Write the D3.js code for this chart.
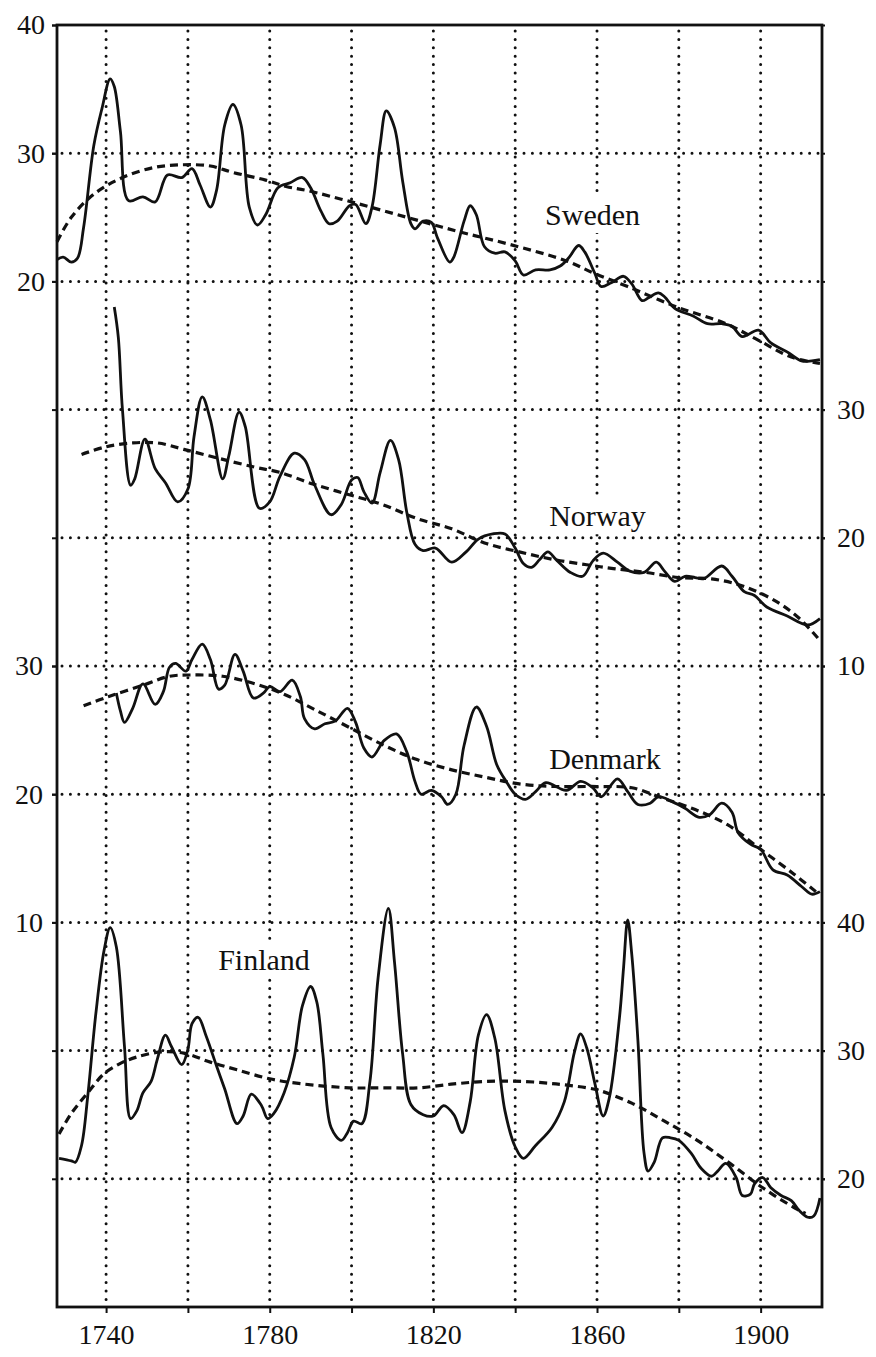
<!DOCTYPE html>
<html>
<head>
<meta charset="utf-8">
<script src="https://cdn.jsdelivr.net/npm/d3@7/dist/d3.min.js"></script>
<style>
  body { margin: 0; background: #fff; }
  text { font-family: "Liberation Serif", "Times New Roman", serif; fill: #111; }
</style>
</head>
<body>
<svg></svg>
<script>
// years on the x axis
var xTicks = [1740, 1760, 1780, 1800, 1820, 1840, 1860, 1880, 1900];
var xLabels = [1740, 1780, 1820, 1860, 1900];

// Sweden (left axis, top)
var swedenYears = [1728,1729.5,1731.5,1733,1734.5,1737,1739,1741,1742,1743.5,1745.5,1749,1752,1755,1758.5,1761,1763,1765.5,1767,1769,1771,1773,1775,1777,1779,1782,1785,1788,1790,1792.5,1794.5,1796.5,1799.5,1801,1803.5,1805,1807,1808.5,1810.5,1812.5,1814.5,1815.5,1817.5,1819.5,1821,1824,1825,1827.5,1829,1830.5,1832.5,1835,1837.5,1840,1842,1845,1848.5,1851,1853,1855.5,1857,1859.5,1861,1863.5,1866.5,1868.5,1871,1872.5,1875,1876.5,1879,1883.5,1887,1890.5,1893,1895.5,1899.5,1902.5,1907,1910,1912.5,1914.5];
var swedenRate = [21.7,21.9,21.5,21.8,24.2,30.6,33.5,35.8,35.2,31.7,26.3,26.6,26.2,28.3,28.1,28.8,27.5,25.8,27.1,32.2,33.8,32.2,25.8,24.4,25.2,27.3,27.7,28.1,27.3,25.5,24.5,24.7,25.9,26,24.5,25.8,30.7,33.3,32,27.8,24.5,24.1,24.7,24.6,23.4,21.5,21.9,24.7,25.9,25.2,22.7,22.2,22.3,21.6,20.5,20.9,20.9,21.2,21.8,22.8,22.3,20.6,19.6,19.9,20.4,19.8,18.5,18.7,19.1,18.8,17.9,17.3,16.7,16.7,16.5,15.7,16.2,15.2,14.4,13.8,13.8,13.9];
var swedenTrendYears = [1728,1731.5,1737,1744,1752,1759,1765.5,1771,1779,1784,1789,1800,1813.5,1826,1838.5,1852.5,1859.5,1867.5,1879.5,1891.5,1899.5,1907.5,1914.5];
var swedenTrend = [23.1,25,26.8,28.1,28.9,29.1,29,28.5,27.9,27.4,27.1,26.2,25,23.9,22.9,21.6,20.6,19.6,18,16.7,15.4,14.1,13.6];

// Norway (right axis)
var norwayYears = [1742,1743,1744,1746,1747,1749.5,1752,1754.5,1757.5,1760,1761.5,1763.5,1765.5,1768.5,1770,1772.5,1774,1777.5,1780,1782.5,1786,1788.5,1791,1795,1797.5,1800,1801.5,1803,1805,1807,1809.5,1811.5,1813.5,1815.5,1817.5,1820.5,1824.5,1828,1831,1834.5,1837.5,1840,1842,1844,1846,1848,1850,1853.5,1856.5,1859,1861.5,1865,1868,1871.5,1874.5,1876.5,1879,1881.5,1884,1886,1890.5,1893,1896,1898.5,1901.5,1906.5,1911.5,1914.5];
var norwayRate = [38,35.6,30,24.1,24.6,27.7,25.4,24.3,22.8,23.8,27.9,31,29.2,24.6,26.4,29.8,28.7,22.3,22.8,24.8,26.6,26.1,24.1,21.8,22.6,24.5,24.7,23.6,22.7,25.1,27.6,26.1,22,19.5,19,19.2,18.1,18.9,19.9,20.3,20.3,19.2,18,17.7,18.3,18.9,18.3,17.3,17,18.2,18.8,18.1,17.4,17.3,18.1,17.4,16.6,17,16.9,16.8,17.8,17,15.8,15.5,14.6,13.9,13.2,13.7];
var norwayTrendYears = [1734,1740,1746.5,1752.5,1759,1767.5,1776.5,1782.5,1790.5,1799,1807.5,1816,1824.5,1832.5,1841,1849.5,1857.5,1864,1872,1880,1888,1896,1904,1909.5,1914.5];
var norwayTrend = [26.5,27.1,27.4,27.4,26.9,26.2,25.5,25.1,24.2,23.4,22.6,21.5,20.7,19.6,18.9,18.3,17.9,17.6,17.3,16.9,16.8,16.2,15,13.7,12];

// Denmark (left axis)
var denmarkYears = [1742.5,1743.5,1744.5,1746.5,1749,1752,1754,1755.5,1757,1759.5,1761,1763.5,1765.5,1767.5,1769,1771.5,1773.5,1776,1778.5,1780,1782.5,1785.5,1787.5,1788.5,1791,1793.5,1796,1799,1801,1803,1805,1808,1811,1813.5,1815.5,1817,1819.5,1822,1823.5,1825.5,1827.5,1830.5,1833,1835.5,1838,1840,1842.5,1845,1847.5,1852.5,1856,1859,1861,1865,1867.5,1870,1873,1875,1878.5,1881.5,1885,1887.5,1890.5,1893,1894.5,1897.5,1900,1903,1906.5,1910,1912.5,1914.5];
var denmarkRate = [27.9,26.5,25.6,26.7,28.6,27,28,29.9,30.2,29.6,30.5,31.7,30.5,28.2,28.5,30.9,29.6,27.5,27.9,28.4,28,28.9,27.6,25.9,25.1,25.5,25.7,26.7,25.6,23.6,22.9,24.2,24.7,23.3,21,20,20.3,19.8,19.2,20,23.8,26.8,25.3,22.3,20.9,20,19.6,20.2,20.9,20.3,21,20.5,19.8,21.2,20.2,19.2,19.3,19.8,19.4,18.9,18.2,18.4,19.3,18.6,17,16.1,15.7,14.1,13.7,12.8,12.2,12.4];
var denmarkTrendYears = [1734.5,1740.5,1749,1755.5,1761,1768.5,1776.5,1783.5,1791,1799.5,1808,1816,1824.5,1833,1841,1849.5,1860,1868.5,1876,1884,1892,1900,1908,1913.5];
var denmarkTrend = [26.9,27.6,28.5,29.2,29.3,29.2,28.6,27.8,26.6,25.2,23.8,22.7,21.9,21.3,20.8,20.6,20.6,20.5,19.7,18.8,17.6,15.7,13.8,12.4];

// Finland (right axis, bottom)
var finlandYears = [1728.5,1731.5,1732.5,1734,1735.5,1737.5,1739.5,1741,1742.5,1744.5,1746,1747.5,1749,1751,1752.5,1754.5,1756,1758.5,1760,1761,1762.5,1764.5,1767,1769,1772,1773.5,1775.5,1778,1779.5,1781,1783.5,1786,1788,1790,1791.5,1793,1795,1797.5,1799,1800.5,1802.5,1804.5,1806.5,1809,1810.5,1812.5,1814.5,1817.5,1820,1822.5,1825,1827,1829,1831,1833,1835,1837.5,1840,1842,1845,1849,1852,1854.5,1856,1857.5,1859.5,1861.5,1863,1865.5,1866.5,1867.5,1868.5,1870,1871.5,1872.5,1874,1876,1878,1880,1883,1885.5,1888,1889.5,1891.5,1894,1895.5,1897.5,1898.5,1900.5,1902.5,1905,1907.5,1909.5,1911.5,1913,1914.5];
var finlandRate = [21.6,21.4,21.3,22.6,26.4,32.9,37.8,39.6,38.1,30.3,24.7,25.3,26.7,27.6,29.3,31.2,30.3,28.9,30.1,32.1,32.6,31.1,28.8,27,24.3,24.9,26.6,25.7,24.7,25.1,26.7,29.5,33.5,35,33.8,29.7,24,23,23.6,24.5,24.3,27.6,35.7,41.1,36.9,29.7,25.8,25,24.9,25.7,25,23.6,26,31.2,32.8,31,25.3,22.5,21.6,22.6,24,26,29.9,31.3,30.2,27.4,24.9,26.3,32.6,36.5,40.2,37.5,30.8,22,20.6,21.3,23.2,23.2,23,22,20.8,20.2,20.6,21.2,20.1,18.7,18.8,19.6,20.1,19.3,18.7,18.3,17.5,17,17.1,18.5];
var finlandTrendYears = [1728.5,1731.5,1735.5,1739.5,1743.5,1747.5,1753.5,1759,1765.5,1772,1780,1788,1799.5,1808,1816.5,1825,1833,1841.5,1850,1857.5,1860.5,1868.5,1876.5,1884.5,1892.5,1900.5,1908.5,1911];
var finlandTrend = [23.5,25.1,26.7,28.2,29,29.5,29.9,29.8,29.1,28.5,27.8,27.4,27.1,27.1,27.1,27.4,27.6,27.6,27.4,27.1,26.9,25.9,24.5,23,21.2,19.3,17.7,17.3];

var countries = ["Sweden", "Norway", "Denmark", "Finland"];

var drawChart = function()
{
  var screen = { width: 876, height: 1357 };
  var plot = { left: 57, right: 822, top: 25, bottom: 1307 };

  var svg = d3.select('svg')
              .attr('width', screen.width)
              .attr('height', screen.height);

  var xscale = d3.scaleLinear()
                 .domain([1728, 1915])
                 .range([plot.left, plot.right]);

  // one stacked panel: each country has its own scale, 10 units per grid row
  var yscale = function(topValue)
  {
    return d3.scaleLinear()
             .domain([topValue, topValue - 100])
             .range([plot.top, plot.bottom]);
  }
  var swedenY = yscale(40);
  var norwayY = yscale(60);
  var denmarkY = yscale(80);
  var finlandY = yscale(110);

  // grid rows follow the Sweden scale
  var gridRows = d3.range(30, -60, -10);

  var grid = svg.append('g').classed('grid', true);
  grid.selectAll('line.h')
      .data(gridRows)
      .enter()
      .append('line')
      .classed('h', true)
      .attr('x1', plot.left + 5)
      .attr('x2', plot.right - 4)
      .attr('y1', function(d) { return swedenY(d); })
      .attr('y2', function(d) { return swedenY(d); });
  grid.selectAll('line.v')
      .data(xTicks)
      .enter()
      .append('line')
      .classed('v', true)
      .attr('x1', function(d) { return xscale(d); })
      .attr('x2', function(d) { return xscale(d); })
      .attr('y1', plot.top + 6)
      .attr('y2', plot.bottom - 4);
  grid.selectAll('line')
      .attr('stroke', '#111')
      .attr('stroke-width', 3)
      .attr('stroke-linecap', 'round')
      .attr('stroke-dasharray', '0,8.4');

  // country labels, white box knocks out the grid behind them
  var labelPos = [
    { name: "Sweden", year: 1847.3, y: swedenY(24.4) },
    { name: "Norway", year: 1848.3, y: norwayY(20.9) },
    { name: "Denmark", year: 1848.3, y: denmarkY(22.0) },
    { name: "Finland", year: 1767.4, y: finlandY(36.3) }
  ];
  var labels = svg.append('g').classed('labels', true);
  labelPos.forEach(function(l)
  {
    var g = labels.append('g');
    var bg = g.append('rect').attr('fill', '#fff');
    var t = g.append('text')
             .attr('x', xscale(l.year))
             .attr('y', l.y)
             .attr('font-size', 30)
             .text(l.name);
    var b = t.node().getBBox();
    bg.attr('x', b.x - 4).attr('y', b.y - 2)
      .attr('width', b.width + 8).attr('height', b.height + 4);
  });

  var line = function(ys)
  {
    return d3.line()
             .x(function(d) { return xscale(d[0]); })
             .y(function(d) { return ys(d[1]); })
             .curve(d3.curveCatmullRom.alpha(0.5));
  }

  var series = [
    { ys: swedenY, years: swedenYears, vals: swedenRate, tyears: swedenTrendYears, tvals: swedenTrend },
    { ys: norwayY, years: norwayYears, vals: norwayRate, tyears: norwayTrendYears, tvals: norwayTrend },
    { ys: denmarkY, years: denmarkYears, vals: denmarkRate, tyears: denmarkTrendYears, tvals: denmarkTrend },
    { ys: finlandY, years: finlandYears, vals: finlandRate, tyears: finlandTrendYears, tvals: finlandTrend }
  ];

  var lines = svg.append('g').classed('lines', true);
  series.forEach(function(s, i)
  {
    var trend = d3.zip(s.tyears, s.tvals);
    var rate = d3.zip(s.years, s.vals);
    lines.append('path')
         .datum(trend)
         .attr('class', 'trend ' + countries[i])
         .attr('d', line(s.ys))
         .attr('fill', 'none')
         .attr('stroke', '#111')
         .attr('stroke-width', 3.2)
         .attr('stroke-dasharray', '8,5');
    lines.append('path')
         .datum(rate)
         .attr('class', 'rate ' + countries[i])
         .attr('d', line(s.ys))
         .attr('fill', 'none')
         .attr('stroke', '#111')
         .attr('stroke-width', 2.8)
         .attr('stroke-linejoin', 'round');
  });

  // frame
  svg.append('rect')
     .attr('x', plot.left)
     .attr('y', plot.top)
     .attr('width', plot.right - plot.left)
     .attr('height', plot.bottom - plot.top)
     .attr('fill', 'none')
     .attr('stroke', '#111')
     .attr('stroke-width', 2.8);

  // axes
  var allRows = d3.range(40, -60, -10);
  svg.append('g')
     .attr('transform', 'translate(' + plot.left + ',0)')
     .call(d3.axisLeft(swedenY).tickValues(allRows).tickSize(5).tickFormat(''));
  svg.append('g')
     .attr('transform', 'translate(' + plot.left + ',0)')
     .call(d3.axisLeft(swedenY).tickValues([40, 30, 20]).tickSize(5).tickPadding(7));
  svg.append('g')
     .attr('transform', 'translate(' + plot.left + ',0)')
     .call(d3.axisLeft(denmarkY).tickValues([30, 20, 10]).tickSize(5).tickPadding(9));
  svg.append('g')
     .attr('transform', 'translate(' + plot.right + ',0)')
     .call(d3.axisRight(swedenY).tickValues(allRows).tickSize(3).tickFormat(''));
  svg.append('g')
     .attr('transform', 'translate(' + plot.right + ',0)')
     .call(d3.axisRight(norwayY).tickValues([30, 20, 10]).tickSize(3).tickPadding(12));
  svg.append('g')
     .attr('transform', 'translate(' + plot.right + ',0)')
     .call(d3.axisRight(finlandY).tickValues([40, 30, 20]).tickSize(3).tickPadding(12));
  svg.append('g')
     .attr('transform', 'translate(0,' + plot.bottom + ')')
     .call(d3.axisBottom(xscale)
             .tickValues(xTicks)
             .tickSize(6)
             .tickPadding(11)
             .tickFormat(function(d) { return xLabels.indexOf(d) >= 0 ? d : ''; }));

  svg.selectAll('.domain').remove();
  svg.selectAll('.tick line').attr('stroke', '#111').attr('stroke-width', 2);
  svg.selectAll('.tick text')
     .attr('font-family', '"Liberation Serif", "Times New Roman", serif')
     .attr('font-size', 28)
     .attr('fill', '#111');
}

drawChart();
</script>
</body>
</html>
